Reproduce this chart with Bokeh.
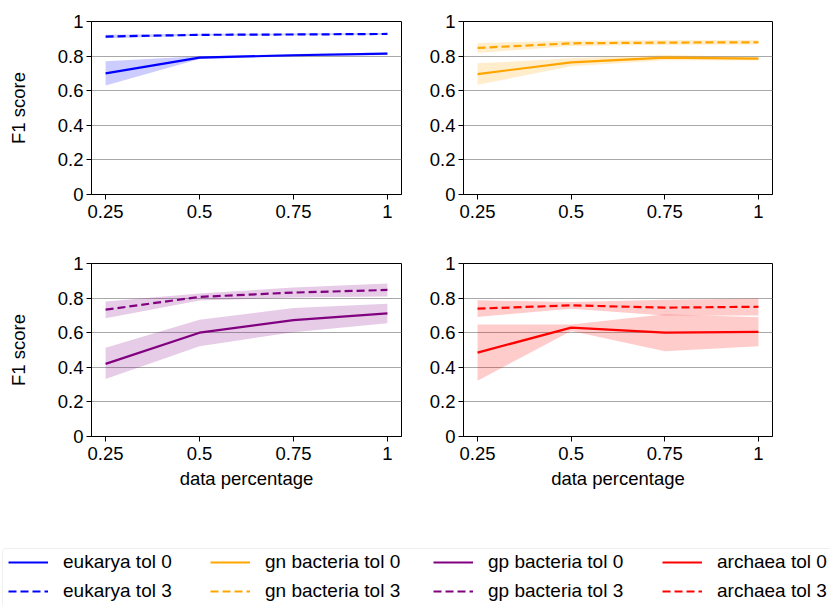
from bokeh.plotting import figure
from bokeh.layouts import column, row
from bokeh.models import (ColumnDataSource, FixedTicker, Range1d, Legend, LegendItem,
                          BoxAnnotation)
from bokeh.embed import file_html
from bokeh.resources import INLINE

# ---------------- data ----------------
data_pct = [0.25, 0.5, 0.75, 1.0]
x_ticks = [0.25, 0.5, 0.75, 1.0]
x_tick_labels = ["0.25", "0.5", "0.75", "1"]
y_ticks = [0, 0.2, 0.4, 0.6, 0.8, 1.0]
y_tick_labels = ["0", "0.2", "0.4", "0.6", "0.8", "1"]

groups = ["eukarya", "gn bacteria", "gp bacteria", "archaea"]
colors = ["#0000ff", "#ffa500", "#800080", "#ff0000"]

eukarya_tol0 = [0.700, 0.791, 0.805, 0.814]
eukarya_tol0_lo = [0.630, 0.783, 0.798, 0.807]
eukarya_tol0_hi = [0.770, 0.799, 0.812, 0.821]
eukarya_tol3 = [0.913, 0.923, 0.925, 0.928]
eukarya_tol3_lo = [0.903, 0.917, 0.920, 0.923]
eukarya_tol3_hi = [0.923, 0.929, 0.930, 0.933]

gn_tol0 = [0.696, 0.764, 0.791, 0.785]
gn_tol0_lo = [0.634, 0.741, 0.776, 0.775]
gn_tol0_hi = [0.758, 0.787, 0.806, 0.795]
gn_tol3 = [0.847, 0.874, 0.878, 0.880]
gn_tol3_lo = [0.818, 0.859, 0.865, 0.867]
gn_tol3_hi = [0.876, 0.889, 0.891, 0.893]

gp_tol0 = [0.420, 0.600, 0.673, 0.712]
gp_tol0_lo = [0.333, 0.522, 0.603, 0.654]
gp_tol0_hi = [0.513, 0.675, 0.743, 0.768]
gp_tol3 = [0.733, 0.807, 0.832, 0.847]
gp_tol3_lo = [0.683, 0.786, 0.803, 0.809]
gp_tol3_hi = [0.781, 0.826, 0.861, 0.884]

archaea_tol0 = [0.485, 0.629, 0.600, 0.605]
archaea_tol0_lo = [0.322, 0.610, 0.493, 0.522]
archaea_tol0_hi = [0.648, 0.648, 0.706, 0.690]
archaea_tol3 = [0.739, 0.758, 0.745, 0.750]
archaea_tol3_lo = [0.691, 0.739, 0.700, 0.700]
archaea_tol3_hi = [0.787, 0.778, 0.791, 0.797]

series = [
    (eukarya_tol0, eukarya_tol0_lo, eukarya_tol0_hi, eukarya_tol3, eukarya_tol3_lo, eukarya_tol3_hi),
    (gn_tol0, gn_tol0_lo, gn_tol0_hi, gn_tol3, gn_tol3_lo, gn_tol3_hi),
    (gp_tol0, gp_tol0_lo, gp_tol0_hi, gp_tol3, gp_tol3_lo, gp_tol3_hi),
    (archaea_tol0, archaea_tol0_lo, archaea_tol0_hi, archaea_tol3, archaea_tol3_lo, archaea_tol3_hi),
]

FONT = "Liberation Sans"
FS = "18.5px"
LEG_FS = "19px"
DASH = "8 4"
LW = 2.2

# ---------------- layout geometry ----------------
# (width, height, left, right, top, bottom)
geom = [
    (426, 243, 91, 25, 21, 49),
    (404, 243, 36, 58, 21, 49),
    (426, 297, 91, 25, 20, 104),
    (404, 297, 36, 58, 20, 104),
]


def make_panel(i):
    w, h, bl, br, bt, bb = geom[i]
    p = figure(width=w, height=h, output_backend="svg", toolbar_location=None,
               x_range=Range1d(0.2125, 1.0375), y_range=Range1d(0, 1),
               min_border_left=bl, min_border_right=br,
               min_border_top=bt, min_border_bottom=bb,
               background_fill_color="white", border_fill_color="white")
    p.outline_line_color = "black"
    p.outline_line_alpha = 1
    p.outline_line_width = 1
    p.xgrid.visible = False
    p.ygrid.ticker = FixedTicker(ticks=y_ticks)
    p.ygrid.grid_line_color = "#a8a8a8"
    p.ygrid.grid_line_width = 1
    p.xaxis.ticker = FixedTicker(ticks=x_ticks)
    p.yaxis.ticker = FixedTicker(ticks=y_ticks)
    p.xaxis.major_label_overrides = {t: l for t, l in zip(x_ticks, x_tick_labels)}
    p.yaxis.major_label_overrides = {t: l for t, l in zip(y_ticks, y_tick_labels)}
    for ax in (p.xaxis[0], p.yaxis[0]):
        ax.axis_line_color = "black"
        ax.major_tick_line_color = "black"
        ax.major_tick_in = 0
        ax.major_tick_out = 5
        ax.minor_tick_line_color = None
        ax.major_label_text_font = FONT
        ax.major_label_text_font_size = FS
        ax.major_label_text_color = "black"
        ax.major_label_standoff = 3
        ax.axis_label_text_font = FONT
        ax.axis_label_text_font_size = FS
        ax.axis_label_text_font_style = "normal"
        ax.axis_label_text_color = "black"
    p.xaxis.major_label_standoff = 5
    if i in (0, 2):
        p.yaxis.axis_label = "F1 score"
        p.yaxis.axis_label_standoff = 26
    if i in (2, 3):
        p.xaxis.axis_label = "data percentage"
        p.xaxis.axis_label_standoff = 5

    t0, t0lo, t0hi, t3, t3lo, t3hi = series[i]
    src = ColumnDataSource(dict(x=data_pct, t0=t0, t0lo=t0lo, t0hi=t0hi,
                                t3=t3, t3lo=t3lo, t3hi=t3hi))
    c = colors[i]
    p.varea(x="x", y1="t0lo", y2="t0hi", source=src, fill_color=c, fill_alpha=0.2)
    p.varea(x="x", y1="t3lo", y2="t3hi", source=src, fill_color=c, fill_alpha=0.2)
    p.line(x="x", y="t0", source=src, line_color=c, line_width=LW)
    p.line(x="x", y="t3", source=src, line_color=c, line_width=LW, line_dash=DASH)
    return p


panels = [make_panel(i) for i in range(4)]

# ---------------- legend strip ----------------
lg = figure(width=830, height=65, output_backend="svg", toolbar_location=None,
            x_range=Range1d(0, 830), y_range=Range1d(0, 65),
            min_border=0, min_border_left=0, min_border_right=0,
            min_border_top=0, min_border_bottom=0,
            x_axis_location=None, y_axis_location=None,
            background_fill_color="white", border_fill_color="white")
lg.outline_line_color = None
lg.xgrid.visible = False
lg.ygrid.visible = False
lg.extra_x_ranges = {"off": Range1d(5, 6)}

lg.add_layout(BoxAnnotation(left=2, right=845, bottom=-10, top=57,
                            fill_color="white", fill_alpha=1,
                            line_color="#cccccc", line_width=1, border_radius=4))

col_x = [8, 210, 433, 662]
for i, g in enumerate(groups):
    t0, t0lo, t0hi, t3, t3lo, t3hi = series[i]
    r0 = lg.line(x=data_pct, y=t0, line_color=colors[i], line_width=LW, x_range_name="off")
    r3 = lg.line(x=data_pct, y=t3, line_color=colors[i], line_width=LW,
                 line_dash=DASH, x_range_name="off")
    leg = Legend(items=[LegendItem(label=f"{g} tol 0", renderers=[r0]),
                        LegendItem(label=f"{g} tol 3", renderers=[r3])],
                 location=(col_x[i], 3), orientation="vertical",
                 border_line_alpha=0, background_fill_alpha=0,
                 padding=0, margin=0, spacing=7,
                 glyph_width=40, glyph_height=20, label_height=20,
                 label_standoff=15, label_text_font=FONT,
                 label_text_font_size=LEG_FS, label_text_color="black")
    lg.add_layout(leg)

layout = column(row(panels[0], panels[1]), row(panels[2], panels[3]), lg)

open("out.html", "w").write(file_html(layout, INLINE))
